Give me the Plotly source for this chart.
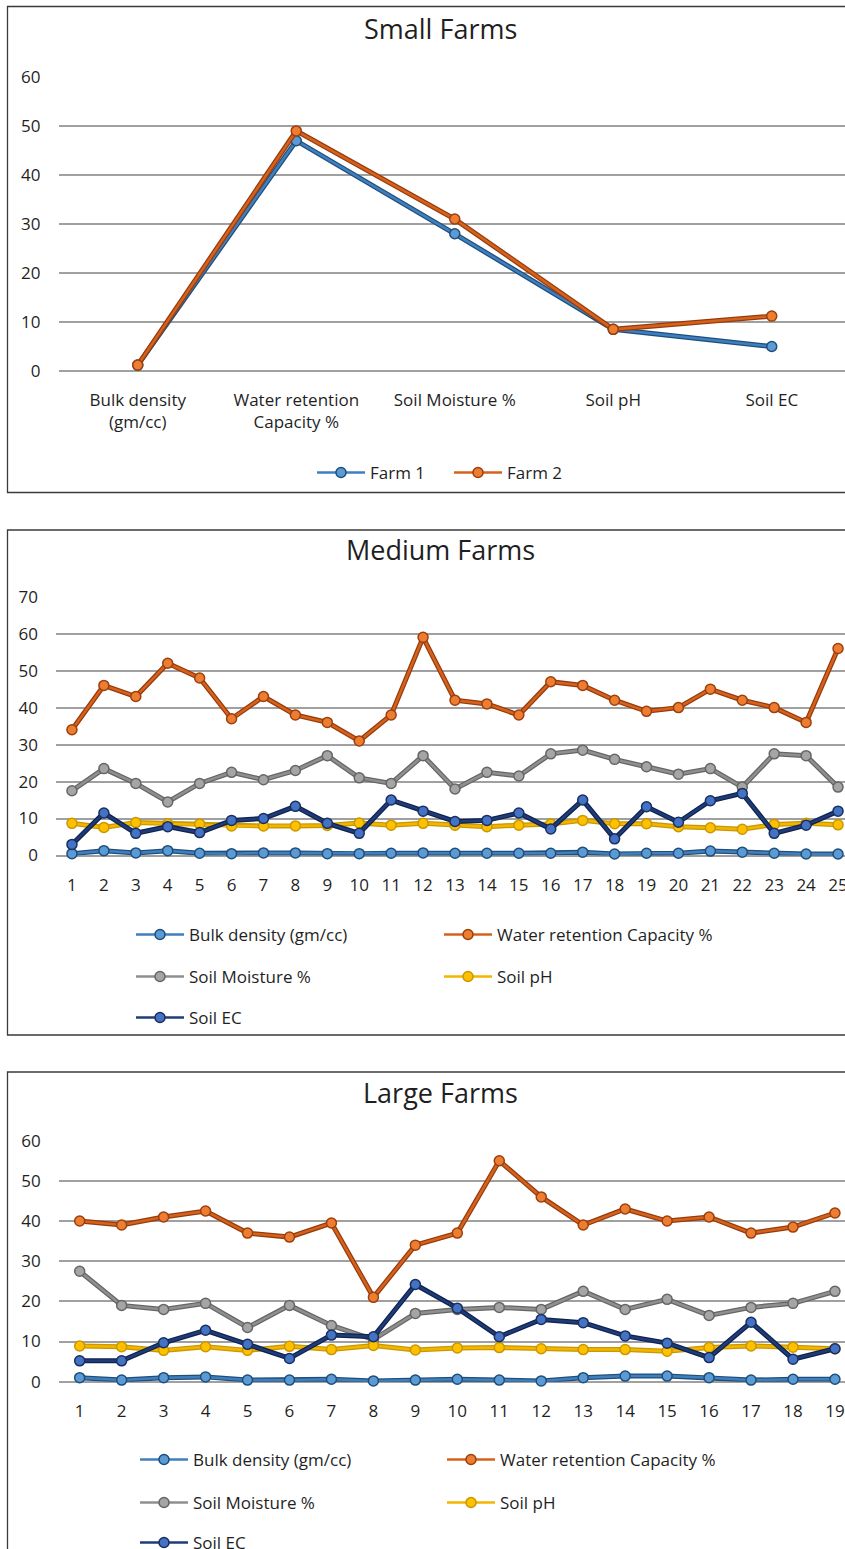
import plotly.graph_objects as go

W, H = 845, 1549

# ---------------- data ----------------
small_categories = ["Bulk density<br>(gm/cc)", "Water retention<br>Capacity %", "Soil Moisture %", "Soil pH", "Soil EC"]
small_farm1 = [1.2, 47, 28, 8.5, 5.0]
small_farm2 = [1.2, 49, 31, 8.5, 11.2]

medium_sites = list(range(1, 26))
medium_bulk = [0.5, 1.3, 0.7, 1.3, 0.6, 0.5, 0.7, 0.7, 0.5, 0.5, 0.6, 0.7, 0.6, 0.6, 0.6, 0.6, 0.9, 0.4, 0.6, 0.6, 1.2, 0.9, 0.6, 0.4, 0.4]
medium_water = [34, 46, 43, 52, 48, 37, 43, 38, 36, 31, 38, 59, 42, 41, 38, 47, 46, 42, 39, 40, 45, 42, 40, 36, 56]
medium_moist = [17.5, 23.5, 19.5, 14.5, 19.5, 22.5, 20.5, 23, 27, 21, 19.5, 27, 18, 22.5, 21.5, 27.5, 28.5, 26, 24, 22, 23.5, 18.5, 27.5, 27, 18.5]
medium_ph = [8.7, 7.6, 8.9, 8.6, 8.5, 8.0, 8.0, 8.0, 8.1, 8.8, 8.2, 8.7, 8.2, 7.8, 8.2, 8.5, 9.5, 8.6, 8.6, 7.8, 7.5, 7.1, 8.4, 8.7, 8.3]
medium_ec = [3.0, 11.5, 6.0, 7.8, 6.2, 9.5, 10.0, 13.3, 8.7, 6.0, 15.0, 12.0, 9.2, 9.5, 11.5, 7.2, 15.0, 4.5, 13.2, 9.0, 14.8, 16.8, 6.0, 8.2, 12.0]

large_sites = list(range(1, 20))
large_bulk = [1.0, 0.4, 1.0, 1.2, 0.4, 0.4, 0.6, 0.2, 0.4, 0.6, 0.4, 0.2, 1.0, 1.4, 1.4, 1.0, 0.4, 0.6, 0.6]
large_water = [40, 39, 41, 42.5, 37, 36, 39.5, 21, 34, 37, 55, 46, 39, 43, 40, 41, 37, 38.5, 42]
large_moist = [27.5, 19, 18, 19.5, 13.5, 19, 14, 10.5, 17, 18, 18.5, 18, 22.5, 18, 20.5, 16.5, 18.5, 19.5, 22.5]
large_ph = [8.9, 8.7, 7.8, 8.7, 7.8, 8.8, 8.0, 9.0, 7.9, 8.4, 8.5, 8.2, 8.0, 8.0, 7.6, 8.5, 8.9, 8.6, 8.2]
large_ec = [5.2, 5.2, 9.7, 12.8, 9.3, 5.8, 11.6, 11.2, 24.2, 18.3, 11.2, 15.5, 14.7, 11.4, 9.6, 6.0, 14.8, 5.6, 8.2]

param_names = ["Bulk density (gm/cc)", "Water retention Capacity %", "Soil Moisture %", "Soil pH", "Soil EC"]

# ---------------- styles ----------------
FONT = "Open Sans"
TXT = "#1f1f1f"
GRID = "#a0a0a0"
# (outline colour, line colour, marker fill, marker edge)
STY = {
    "blue":   ("#1f4e79", "#3f7fbf", "#5b9bd5", "#1f4e79"),
    "orange": ("#973b0c", "#d4621c", "#ed7d31", "#9c3f0e"),
    "gray":   ("#666666", "#8f8f8f", "#a5a5a5", "#666666"),
    "gold":   ("#c99700", "#f2b600", "#ffc000", "#c99700"),
    "navy":   ("#0f2350", "#1f3c78", "#4472c4", "#1a2f5e"),
}


def px_x(p):
    return p / W


def px_y(p):
    return 1 - p / H


fig = go.Figure()


def add_series(x, y, style, name, xa, ya, legend):
    o, lc, mf, me = STY[style]
    fig.add_trace(go.Scatter(x=x, y=y, mode="lines", line=dict(color=o, width=5),
                             xaxis=xa, yaxis=ya, showlegend=False, hoverinfo="skip",
                             cliponaxis=False))
    fig.add_trace(go.Scatter(x=x, y=y, mode="lines+markers", name=name,
                             line=dict(color=lc, width=2.5),
                             marker=dict(size=10, color=mf, line=dict(color=me, width=1.5)),
                             xaxis=xa, yaxis=ya, legend=legend, cliponaxis=False))


styles = ["blue", "orange", "gray", "gold", "navy"]

# panel 1
add_series(small_categories, small_farm1, "blue", "Farm 1", "x", "y", "legend")
add_series(small_categories, small_farm2, "orange", "Farm 2", "x", "y", "legend2")

# panel 2
med = [medium_bulk, medium_water, medium_moist, medium_ph, medium_ec]
lg_med = ["legend3", "legend4", "legend5", "legend6", "legend7"]
for i in range(5):
    add_series(medium_sites, med[i], styles[i], param_names[i], "x2", "y2", lg_med[i])

# panel 3
lar = [large_bulk, large_water, large_moist, large_ph, large_ec]
lg_lar = ["legend8", "legend9", "legend10", "legend11", "legend12"]
for i in range(5):
    add_series(large_sites, lar[i], styles[i], param_names[i], "x3", "y3", lg_lar[i])

tickfont = dict(family=FONT, size=17, color=TXT)


def yax(top_px, bottom_px, rng, anchor):
    return dict(domain=[px_y(bottom_px), px_y(top_px)], range=rng, dtick=10, anchor=anchor,
                showgrid=True, gridcolor=GRID, gridwidth=2, zeroline=True,
                zerolinecolor=GRID, zerolinewidth=2, showline=False, ticks="",
                tickfont=tickfont, ticklabelstandoff=17, fixedrange=True,
                automargin=False)


def xax(left_px, rng, anchor, **kw):
    d = dict(domain=[px_x(left_px), 1.0], range=rng, anchor=anchor, showgrid=False,
             zeroline=False, showline=False, ticks="", tickfont=tickfont,
             ticklabelstandoff=17, fixedrange=True, automargin=False,
             ticklabeloverflow="allow")
    d.update(kw)
    return d


layout = dict(
    width=W, height=H, margin=dict(l=0, r=0, t=0, b=0, pad=0, autoexpand=False), autosize=False,
    paper_bgcolor="white", plot_bgcolor="white",
    font=dict(family=FONT, color=TXT),
    xaxis=xax(58.5, [-0.5, -0.5 + (845 - 58.5) / 158.5], "y", type="category", tickangle=0),
    yaxis=yax(77, 371, [0, 60], "x"),
    xaxis2=xax(56, [0.5, 0.5 + (845 - 56) / 31.92], "y2", tickmode="array", tickvals=medium_sites),
    yaxis2=yax(596.7, 855.5, [0, 70], "x2"),
    xaxis3=xax(58.7, [0.5, 0.5 + (845 - 58.7) / 41.96], "y3", tickmode="array", tickvals=large_sites),
    yaxis3=yax(1140.7, 1381.7, [0, 60], "x3"),
    showlegend=True,
)


def leg(xpx, ypx):
    return dict(x=px_x(xpx), y=px_y(ypx), xanchor="left", yanchor="middle",
                orientation="h", bgcolor="rgba(0,0,0,0)", borderwidth=0,
                font=dict(family=FONT, size=17, color=TXT), itemwidth=48,
                itemclick=False, itemdoubleclick=False)


layout["legend"] = leg(312, 473)
layout["legend2"] = leg(449, 473)
pos_med = [(131, 935), (439, 935), (131, 977), (439, 977), (131, 1018)]
for name, (a, b) in zip(lg_med, pos_med):
    layout[name] = leg(a, b)
pos_lar = [(135, 1460), (442, 1460), (135, 1503), (442, 1503), (135, 1543)]
for name, (a, b) in zip(lg_lar, pos_lar):
    layout[name] = leg(a, b)

shapes = []
for top, bottom in [(6.5, 492.5), (530, 1035), (1072, 1600)]:
    shapes.append(dict(type="rect", xref="paper", yref="paper",
                       x0=px_x(7.5), x1=px_x(900), y0=px_y(bottom), y1=px_y(top),
                       line=dict(color="#3a3a3a", width=1.3), fillcolor="rgba(0,0,0,0)",
                       layer="below"))
layout["shapes"] = shapes

annotations = []
for text, cy in [("Small Farms", 29), ("Medium Farms", 549), ("Large Farms", 1092)]:
    annotations.append(dict(text=text, xref="paper", yref="paper", x=px_x(440), y=px_y(cy),
                            xanchor="center", yanchor="middle", showarrow=False,
                            font=dict(family=FONT, size=27, color=TXT)))
layout["annotations"] = annotations

fig.update_layout(**layout)
fig.write_html("out.html", config={"displayModeBar": False, "responsive": False})
